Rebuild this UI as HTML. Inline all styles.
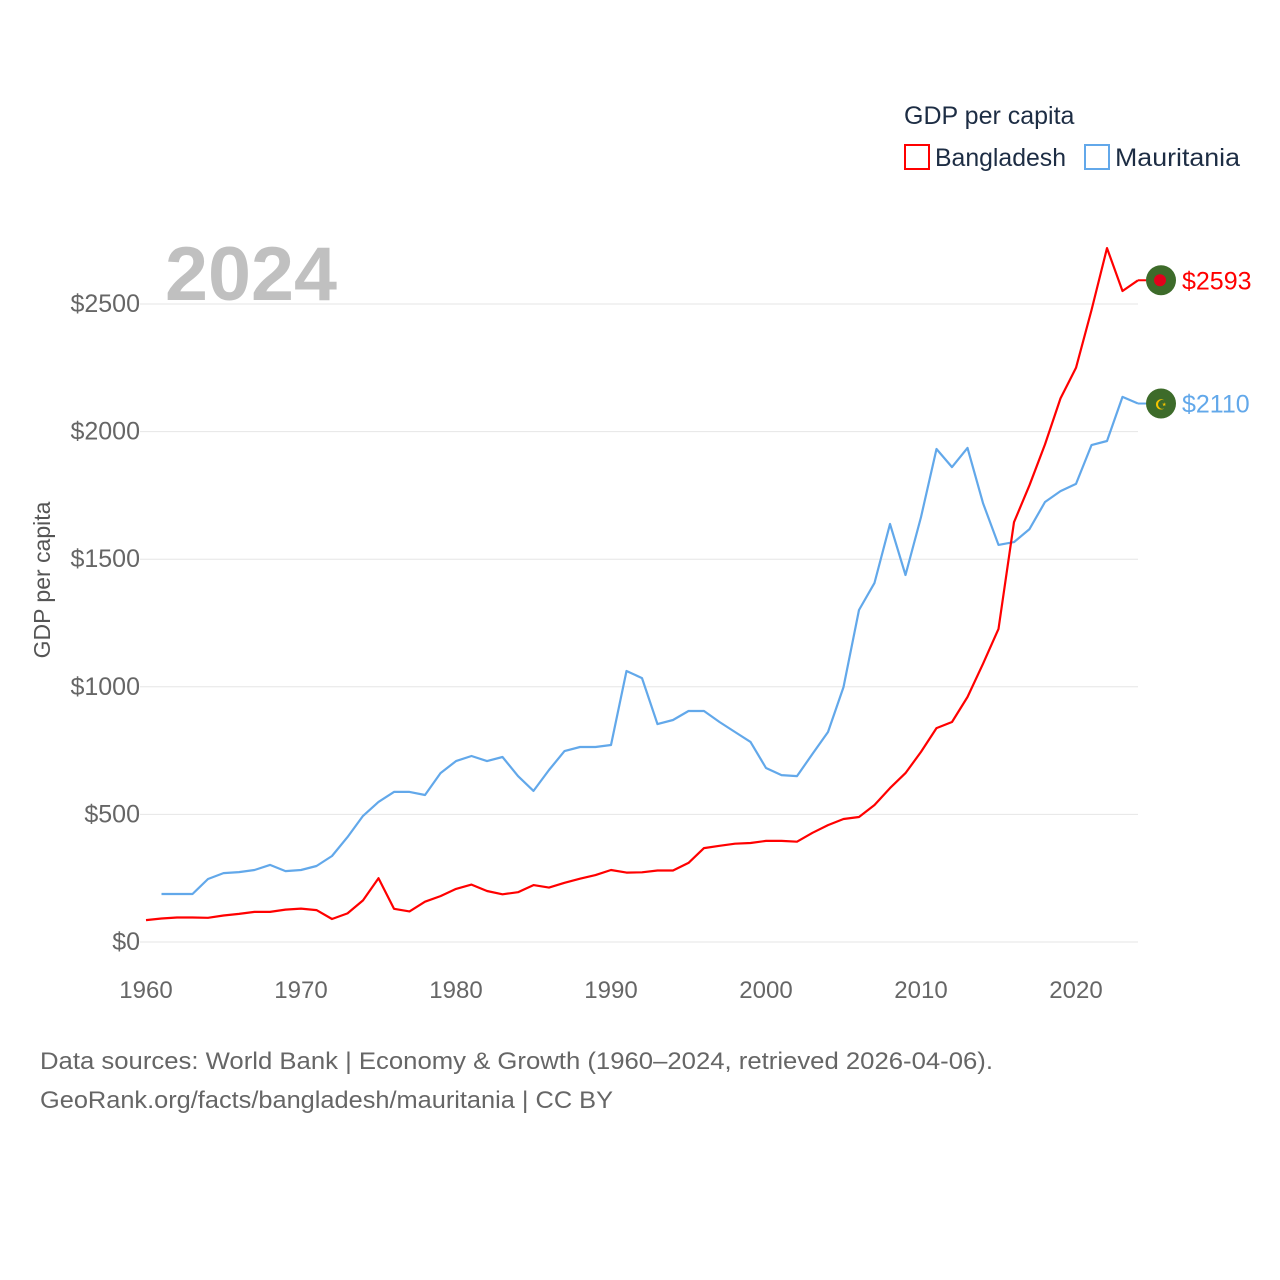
<!DOCTYPE html>
<html><head><meta charset="utf-8"><style>
body{margin:0;background:#fff;font-family:"Liberation Sans",sans-serif}
</style></head><body>
<svg id="chart" width="1280" height="1280" xmlns="http://www.w3.org/2000/svg" style="display:block">
<rect width="1280" height="1280" fill="#fff"/>
<g id="grid"></g>
<text x="165" y="300" font-size="76" font-weight="bold" fill="#c0c0c0" textLength="172" lengthAdjust="spacingAndGlyphs">2024</text>
<g id="series"></g>
<text transform="translate(50,580) rotate(-90)" text-anchor="middle" font-size="23" fill="#555">GDP per capita</text>
<text x="904" y="124" font-size="25" fill="#1d2d44">GDP per capita</text>
<rect x="905" y="145" width="24" height="24" fill="none" stroke="#ff0000" stroke-width="2"/>
<text x="935" y="166" font-size="25" fill="#1d2d44" textLength="131" lengthAdjust="spacingAndGlyphs">Bangladesh</text>
<rect x="1085" y="145" width="24" height="24" fill="none" stroke="#62a8ea" stroke-width="2"/>
<text x="1115" y="166" font-size="25" fill="#1d2d44" textLength="125" lengthAdjust="spacingAndGlyphs">Mauritania</text>
<text x="40" y="1069" font-size="24" fill="#666" textLength="953" lengthAdjust="spacingAndGlyphs">Data sources: World Bank | Economy &amp; Growth (1960–2024, retrieved 2026-04-06).</text>
<text x="40" y="1108" font-size="24" fill="#666" textLength="573" lengthAdjust="spacingAndGlyphs">GeoRank.org/facts/bangladesh/mauritania | CC BY</text>
</svg>
<script>
const years=[];for(let y=1960;y<=2024;y++)years.push(y);
const bangladesh=[86,92,96,96,95,104,110,118,118,127,131,125,90,112,163,250,130,120,158,180,208,225,200,187,195,223,213,232,248,262,282,272,273,280,280,310,368,377,385,388,396,396,393,428,458,482,490,537,603,662,745,838,862,960,1090,1227,1645,1790,1950,2130,2250,2476,2719,2551,2593];
const mauritania=[null,188,188,188,247,270,274,282,302,278,282,298,337,411,494,549,588,588,576,662,709,729,709,725,650,592,674,748,764,764,772,1062,1034,854,870,905,905,862,823,784,682,654,650,737,823,999,1301,1407,1638,1438,1665,1932,1861,1936,1720,1556,1567,1618,1724,1767,1795,1947,1963,2136,2110];
const yTicks=[0,500,1000,1500,2000,2500];
const xTicks=[1960,1970,1980,1990,2000,2010,2020];
const X=y=>146+(y-1960)*15.5, Y=v=>942-v*0.2552;
const NS="http://www.w3.org/2000/svg";
const g=document.getElementById('grid'), s=document.getElementById('series');
function mk(tag,attrs,parent){const e=document.createElementNS(NS,tag);for(const k in attrs)e.setAttribute(k,attrs[k]);parent.appendChild(e);return e;}
yTicks.forEach(v=>{
 const l=mk('line',{x1:140,x2:1138,y1:Y(v),y2:Y(v),stroke:'#e6e6e6','stroke-width':1},g);
 
 
 const t=mk('text',{x:140,y:Y(v)+8,'text-anchor':'end','font-size':25,fill:'#666'},g);
 
 
 t.textContent='$'+v;
});
xTicks.forEach(v=>{
 const t=mk('text',{x:X(v),y:998,'text-anchor':'middle','font-size':24,fill:'#666'},g);
 
 
 t.textContent=v;
});
function line(data,color,name){
 let d='';data.forEach((v,i)=>{if(v==null)return;d+=(d?'L':'M')+X(years[i]).toFixed(1)+','+Y(v).toFixed(1);});
 const p=mk('path',{d:d,fill:'none',stroke:color,'stroke-width':2.2,'stroke-linejoin':'round'},s);
 
 
 const last=data[data.length-1];
 const c=mk('circle',{cx:1161,cy:Y(last),r:15,fill:'#3d6b2a'},s);
 
 
 mk('line',{x1:X(2024),x2:1146,y1:Y(last),y2:Y(last),stroke:color,'stroke-width':2},s);
 const t=mk('text',{x:1182,y:Y(last)+9,'font-size':25,fill:color},s);
 
 
 t.textContent='$'+last;
 return c;
}
line(mauritania,'#62a8ea','mauritania');
line(bangladesh,'#ff0000','bangladesh');
const dot=mk('circle',{cx:1160,cy:Y(bangladesh[bangladesh.length-1]),r:6,fill:'#e3001b'},s);


const cr=mk('text',{x:1161,y:Y(mauritania[mauritania.length-1])+6,'text-anchor':'middle','font-size':14,fill:'#f5c400'},s);


cr.textContent='☪';
</script>
</body></html>
